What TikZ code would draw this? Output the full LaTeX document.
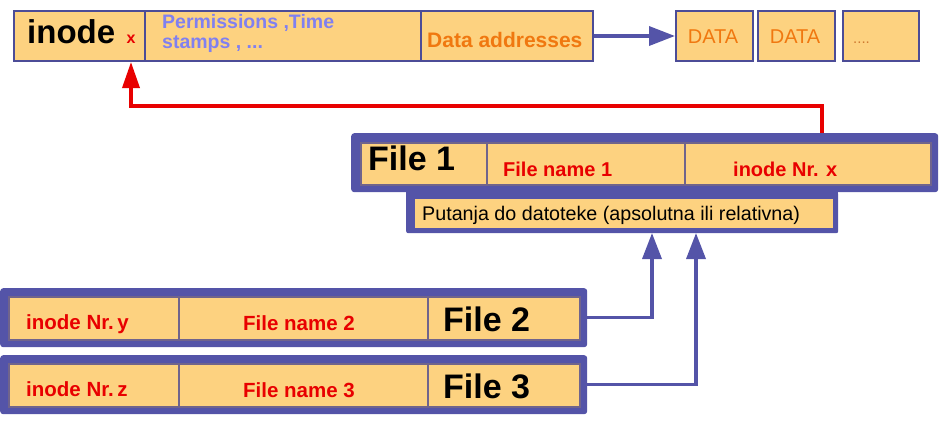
\documentclass[tikz,border=0pt]{standalone}
\usepackage{fontspec}
\setmainfont{Liberation Sans}
\usetikzlibrary{arrows.meta}

\definecolor{cellfill}{RGB}{253,210,128}
\definecolor{framepurple}{RGB}{84,84,168}
\definecolor{divline}{RGB}{112,100,140}
\definecolor{linkred}{RGB}{232,0,0}
\definecolor{permblue}{RGB}{128,128,240}
\definecolor{addrorange}{RGB}{240,120,16}

\newcommand{\fs}[1]{\fontsize{#1}{#1}\selectfont}

\tikzset{
  cell/.style={draw=divline, line width=1.5pt, fill=cellfill, inner sep=0pt, anchor=north west},
  topcell/.style={draw=framepurple!90!black, line width=2pt, fill=cellfill, inner sep=0pt, anchor=north west},
  frame/.style={fill=framepurple, rounded corners=3pt, inner sep=0pt, anchor=north west},
  txt/.style={inner sep=0pt, anchor=base west},
  bluearrow/.style={draw=framepurple, line width=3.5pt, -{Triangle[length=26pt,width=19pt]}},
  redarrow/.style={draw=linkred, line width=3.5pt, -{Triangle[length=26pt,width=17pt]}},
}

\begin{document}
\begin{tikzpicture}[x=1pt,y=-1pt]
\useasboundingbox (0,0) rectangle (939,429);

% inode record
\node[topcell, minimum width=131pt, minimum height=50pt] (inode) at (13,10) {};
\node[topcell, minimum width=276pt, minimum height=50pt] (perm) at (144,10) {};
\node[topcell, minimum width=172pt, minimum height=50pt] (addr) at (420,10) {};
\node[txt] (inodetxt) at (27,43) {\fs{33}\bfseries inode};
\node[txt, anchor=base, text=linkred] (xmark) at (131,43) {\fs{16}\bfseries x};
\node[txt, text=permblue] (perm1) at (162,28) {\fs{19.5}\bfseries Permissions ,Time};
\node[txt, text=permblue] (perm2) at (162,48) {\fs{19.5}\bfseries stamps , ...};
\node[txt, text=addrorange] (addrtxt) at (427,47) {\fs{21}\bfseries Data addresses};

% data blocks
\node[topcell, minimum width=77pt, minimum height=50pt] (data1) at (675,10) {};
\node[topcell, minimum width=77pt, minimum height=50pt] (data2) at (757,10) {};
\node[topcell, minimum width=76pt, minimum height=50pt] (data3) at (842,10) {};
\node[txt, anchor=base, text=addrorange] at (713,43) {\fs{20}DATA};
\node[txt, anchor=base, text=addrorange] at (795,43) {\fs{20}DATA};
\node[txt, text=addrorange!70!gray] at (853,43) {\fs{15}....};

% directory entry: File 1
\node[frame, minimum width=587pt, minimum height=59pt] (f1frame) at (351,133) {};
\node[frame, rounded corners=2pt, minimum width=432pt, minimum height=41pt] (pframe) at (406,192) {};
\fill[framepurple] (406,186) rectangle (838,196);
\node[cell, minimum width=126pt, minimum height=42pt] (f1a) at (360,142) {};
\node[cell, minimum width=198pt, minimum height=42pt] (f1b) at (486,142) {};
\node[cell, minimum width=246pt, minimum height=42pt] (f1c) at (684,142) {};
\node[cell, draw=none, minimum width=418pt, minimum height=29pt] (pcell) at (414,198) {};
\node[txt] at (368,170) {\fs{34}\bfseries File 1};
\node[txt, text=linkred] at (503,176) {\fs{20}\bfseries File name 1};
\node[txt, text=linkred] at (733,176) {\fs{20}\bfseries inode Nr. x};
\node[txt] at (422,220) {\fs{19.7}Putanja do datoteke (apsolutna ili relativna)};

% directory entry: File 2
\node[frame, minimum width=587pt, minimum height=59pt] (f2frame) at (0,288) {};
\node[cell, minimum width=170pt, minimum height=43pt] (f2a) at (8,296) {};
\node[cell, minimum width=249pt, minimum height=43pt] (f2b) at (178,296) {};
\node[cell, minimum width=152pt, minimum height=43pt] (f2c) at (427,296) {};
\node[txt, text=linkred] at (26,329) {\fs{20.5}\bfseries inode Nr.\,y};
\node[txt, text=linkred] at (243,330) {\fs{20.5}\bfseries File name 2};
\node[txt] at (443,331) {\fs{34}\bfseries File 2};

% directory entry: File 3
\node[frame, minimum width=587pt, minimum height=59pt] (f3frame) at (0,355) {};
\node[cell, minimum width=170pt, minimum height=43pt] (f3a) at (8,363) {};
\node[cell, minimum width=249pt, minimum height=43pt] (f3b) at (178,363) {};
\node[cell, minimum width=152pt, minimum height=43pt] (f3c) at (427,363) {};
\node[txt, text=linkred] at (26,396) {\fs{20.5}\bfseries inode Nr.\,z};
\node[txt, text=linkred] at (243,397) {\fs{20.5}\bfseries File name 3};
\node[txt] at (443,398) {\fs{34}\bfseries File 3};

% connectors
\coordinate (rsrc) at (822,133);
\coordinate (rbend) at (131,106);
\coordinate (in1) at (652,233);
\coordinate (in2) at (696,233);

\draw[bluearrow] (addr.east) -- (data1.west);
\draw[redarrow] (rsrc) |- (rbend) -- (xmark |- inode.south);
\draw[bluearrow] (f2frame.east) -| (in1);
\draw[bluearrow] (f3frame.east) -| (in2);
\end{tikzpicture}
\end{document}
